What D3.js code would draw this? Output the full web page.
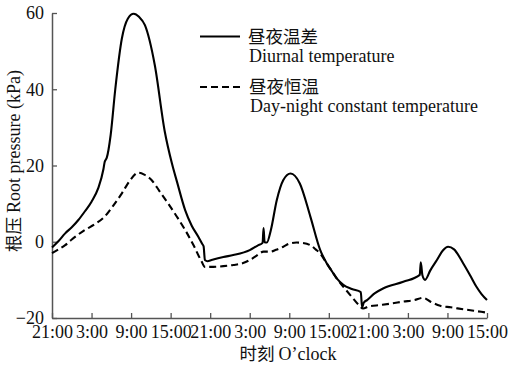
<!DOCTYPE html>
<html>
<head>
<meta charset="utf-8">
<script src="https://cdn.jsdelivr.net/npm/d3@7"></script>
<style>
html,body{margin:0;padding:0;background:#fff;}
svg{display:block;}
</style>
</head>
<body>
<svg id="chart" width="517" height="365"></svg>
<script>
// Hours since first 21:00
const xTickHours = [0,6,12,18,24,30,36,42,48,54,60,66];
const xTickLabels = ["21:00","3:00","9:00","15:00","21:00","3:00","9:00","15:00","21:00","3:00","9:00","15:00"];
const yTickValues = [-20,0,20,40,60];
const yTickLabels = ["\u221220","0","20","40","60"];

const seriesNames = ["昼夜温差","昼夜恒温"];
const seriesNamesEn = ["Diurnal temperature","Day-night constant temperature"];

const diurnalHours = [0,1,2,3,4,5,6,7,7.8,8.0,8.15,8.3,8.9,9.6,10.6,11.5,12.4,13.2,14.1,15.6,17.1,18.2,19,20.2,21.2,22.2,22.8,23.0,23.2,23.6,24.2,26,27.5,30,31.2,31.95,32.1,32.25,32.6,33.2,34.1,35.1,36.2,37.6,39.2,40.7,41.7,42.5,43.3,44.2,45.5,46.85,47.05,47.3,47.8,49,50.3,53.3,55.8,55.95,56.2,56.6,57.4,58.4,59.3,60.1,61,62.4,63.5,64.4,65.2,66];
const diurnalValues = [-1.5,0.2,2.2,3.8,5.7,8,10.5,14,19,21,21.5,22,28,40,53.3,58.5,59.8,59,56.8,46.3,29,20.5,15.5,8.3,4.2,1.3,-0.6,-1.2,-4.8,-5.1,-4.8,-4,-3.5,-2.2,-1,-0.3,3.6,-0.1,-0.2,3,10.9,16.2,17.9,15.3,6.6,-2.2,-5.7,-7.8,-9.8,-11.3,-12.4,-13.2,-17.2,-16,-15.3,-13.5,-12.2,-10.5,-8.7,-5.4,-8.8,-10,-7.5,-4.8,-2.3,-1.3,-2,-5.7,-9,-11.8,-13.8,-15.3];

const constantHours = [0,1,2,3,5,6.5,8,9.3,10.6,11.8,13.1,14,15.1,16.3,17.6,18.9,20.2,21.5,22.7,23.2,24,26,27.5,29,30,31,32.1,33.1,34,35.1,36,37.1,38,39.2,40,40.7,41.7,42.5,43.3,44.2,45.5,46.5,47.2,48,49.8,51.5,53.3,55,56.3,57.5,58.9,60.5,62.4,64,66];
const constantValues = [-3,-2,-0.9,0.6,3.1,4.6,6.6,9.5,12.7,16,18.1,17.6,16.2,13.3,10.1,6.7,3.1,-1,-5.2,-6.6,-6.6,-6.4,-6.1,-5.6,-4.8,-3.7,-2.6,-2.6,-2.1,-1.3,-0.5,-0.2,-0.3,-0.9,-2,-3.1,-5.7,-7.8,-9.9,-11.8,-14.5,-16.5,-17.5,-17,-16.6,-16.2,-15.7,-15.3,-14.7,-15.8,-16.8,-17.2,-17.7,-18.1,-18.6];

const SERIF = "'Liberation Serif','Times New Roman','DejaVu Serif',serif";
const CJK = "'Noto Sans CJK SC',sans-serif";

const svg = d3.select("#chart");
const x = d3.scaleLinear().domain([0,66]).range([52,487]);
const y = d3.scaleLinear().domain([-20,60]).range([318,13]);
const axisColor = "#555";

// X axis
const xAxis = d3.axisBottom(x).tickValues(xTickHours)
  .tickFormat((d,i)=>xTickLabels[i]).tickSizeInner(-5).tickSizeOuter(0).tickPadding(7);
const gx = svg.append("g").attr("transform",`translate(0,${y(-20)})`).call(xAxis)
  .attr("font-family",SERIF).attr("font-size",18);
gx.select(".domain").attr("stroke",axisColor).attr("stroke-width",1.5);
gx.selectAll(".tick line").attr("stroke",axisColor).attr("stroke-width",1.3);
gx.selectAll(".tick text").style("font-family",SERIF).style("font-size","18px").attr("fill","#111");

// Y axis
const yAxis = d3.axisLeft(y).tickValues(yTickValues)
  .tickFormat((d,i)=>yTickLabels[i]).tickSizeInner(-5).tickSizeOuter(0).tickPadding(8);
const gy = svg.append("g").attr("transform",`translate(${x(0)},0)`).call(yAxis)
  .attr("font-family",SERIF).attr("font-size",18);
gy.select(".domain").attr("stroke",axisColor).attr("stroke-width",1.5);
gy.selectAll(".tick line").attr("stroke",axisColor).attr("stroke-width",1.3);
gy.selectAll(".tick text").style("font-family",SERIF).style("font-size","18px").attr("fill","#111");

// Lines
const line = d3.line().x(d=>x(d[0])).y(d=>y(d[1])).curve(d3.curveMonotoneX);
const diurnal = diurnalHours.map((h,i)=>[h,diurnalValues[i]]);
const constant = constantHours.map((h,i)=>[h,constantValues[i]]);

svg.append("path").datum(constant).attr("d",line)
  .attr("fill","none").attr("stroke","#000").attr("stroke-width",2.1)
  .attr("stroke-dasharray","7,4");
svg.append("path").datum(diurnal).attr("d",line)
  .attr("fill","none").attr("stroke","#000").attr("stroke-width",2.1);

// Legend
const lg = svg.append("g").attr("fill","#111");
lg.append("line").attr("x1",200).attr("x2",240).attr("y1",36.5).attr("y2",36.5)
  .attr("stroke","#000").attr("stroke-width",2.1);
lg.append("text").attr("x",248).attr("y",43).style("font-size","17.5px")
  .style("font-family",CJK).text(seriesNames[0]);
lg.append("text").attr("x",249).attr("y",62).style("font-size","18px").style("font-family",SERIF).text(seriesNamesEn[0]);
lg.append("line").attr("x1",200).attr("x2",240).attr("y1",87).attr("y2",87)
  .attr("stroke","#000").attr("stroke-width",2.1).attr("stroke-dasharray","7,4");
lg.append("text").attr("x",249).attr("y",93).style("font-size","17.5px")
  .style("font-family",CJK).text(seriesNames[1]);
lg.append("text").attr("x",250).attr("y",112).style("font-size","18px").style("font-family",SERIF).text(seriesNamesEn[1]);

// Axis titles
const yt = svg.append("text").attr("transform","translate(20,161) rotate(-90)")
  .attr("text-anchor","middle").attr("fill","#111");
yt.append("tspan").style("font-family",CJK).style("font-size","17.5px").text("根压 ");
yt.append("tspan").style("font-family",SERIF).style("font-size","18px").text("Root pressure (kPa)");

const xt = svg.append("text").attr("x",288).attr("y",359.5)
  .attr("text-anchor","middle").attr("fill","#111");
xt.append("tspan").style("font-family",CJK).style("font-size","17.5px").text("时刻 ");
xt.append("tspan").style("font-family",SERIF).style("font-size","18px").text("O\u2019clock");
</script>
</body>
</html>
